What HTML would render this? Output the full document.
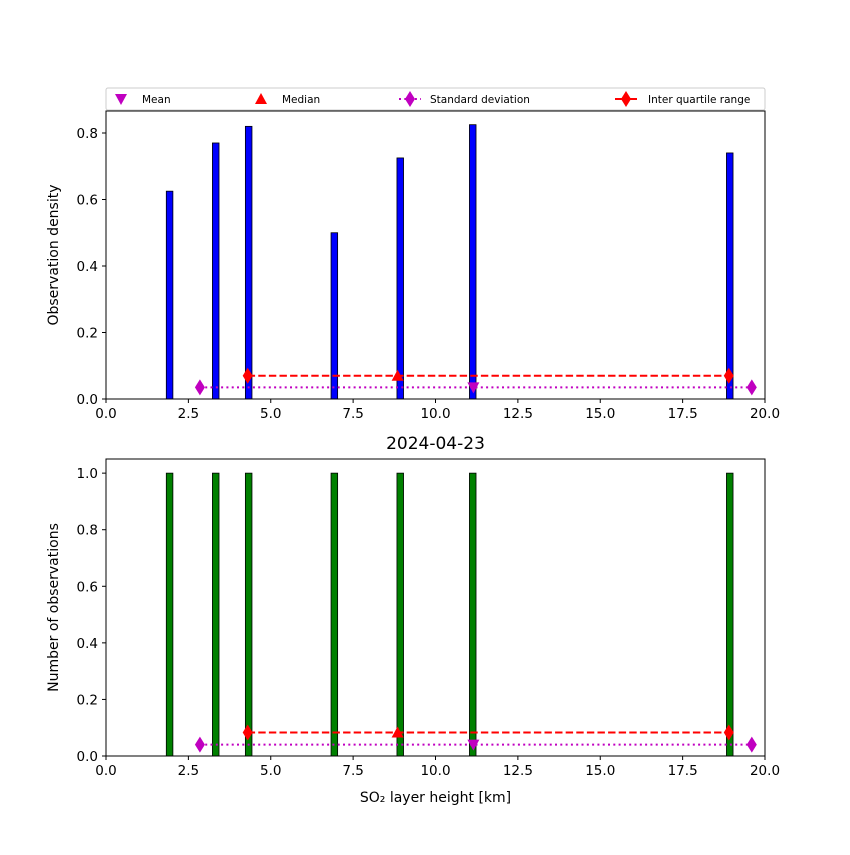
<!DOCTYPE html>
<html><head><meta charset="utf-8"><style>
body{margin:0;background:#fff;}
svg{font-family:"DejaVu Sans","Liberation Sans",sans-serif;}
</style></head><body>
<svg id="c" width="850" height="850" xmlns="http://www.w3.org/2000/svg"></svg>
<script>
const binStarts=[1.83,3.23,4.23,6.83,8.83,11.03,18.83];
const binWidth=0.2;
const densityVals=[0.625,0.77,0.82,0.5,0.725,0.825,0.74];
const countVals=[1,1,1,1,1,1,1];
const xTicks=[0,2.5,5,7.5,10,12.5,15,17.5,20];
const topYTicks=[0,0.2,0.4,0.6,0.8];
const botYTicks=[0,0.2,0.4,0.6,0.8,1.0];
const meanVal=11.15, medianVal=8.85, stdRange=[2.85,19.6], iqrRange=[4.3,18.9];
const topStatY=[0.035,0.07], botStatY=[0.04,0.083];

const svg=document.getElementById('c');const NS='http://www.w3.org/2000/svg';
function el(t,a,p){const e=document.createElementNS(NS,t);for(const k in a)e.setAttribute(k,a[k]);(p||svg).appendChild(e);return e;}
const X0=106,X1=765;const xs=v=>X0+(v/20)*(X1-X0);
function marker(type,x,y,color,g){
 let pts;
 if(type==='down')pts=`${x-6},${y-5} ${x+6},${y-5} ${x},${y+6}`;
 else if(type==='up')pts=`${x-6},${y+5} ${x+6},${y+5} ${x},${y-6}`;
 else pts=`${x},${y-8} ${x+5},${y} ${x},${y+8} ${x-5},${y}`;
 const m=el('polygon',{points:pts,fill:color},g);
 return m;
}
function panel(name,top,bottom,ymax,yTicks,vals,color,statY,ylabel,xlabel){
 const g=el('g',{});
 
 
 const ys=v=>bottom-(v/ymax)*(bottom-top);
 vals.forEach((v,i)=>{
  const r=el('rect',{x:xs(binStarts[i]),y:ys(v),width:xs(binStarts[i]+binWidth)-xs(binStarts[i]),height:ys(0)-ys(v),fill:color,stroke:'#000','stroke-width':0.8},g);
  
  
 });
 const s=el('line',{x1:xs(stdRange[0]),x2:xs(stdRange[1]),y1:ys(statY[0]),y2:ys(statY[0]),stroke:'#c000c0','stroke-width':2,'stroke-dasharray':'2,3.3'},g);
 
 
 marker('d',xs(stdRange[0]),ys(statY[0]),'#c000c0',g);marker('d',xs(stdRange[1]),ys(statY[0]),'#c000c0',g);
 const q=el('line',{x1:xs(iqrRange[0]),x2:xs(iqrRange[1]),y1:ys(statY[1]),y2:ys(statY[1]),stroke:'#ff0000','stroke-width':2,'stroke-dasharray':'7.4,3.2'},g);
 
 
 marker('d',xs(iqrRange[0]),ys(statY[1]),'#ff0000',g);marker('d',xs(iqrRange[1]),ys(statY[1]),'#ff0000',g);
 const mm=marker('down',xs(meanVal),ys(statY[0]),'#c000c0',g);
 
 
 const md=marker('up',xs(medianVal),ys(statY[1]),'#ff0000',g);
 
 
 el('rect',{x:X0,y:top,width:X1-X0,height:bottom-top,fill:'none',stroke:'#000','stroke-width':1},g);
 xTicks.forEach(t=>{
  el('line',{x1:xs(t),x2:xs(t),y1:bottom,y2:bottom+4,stroke:'#000'},g);
  const tx=el('text',{x:xs(t),y:bottom+19,'text-anchor':'middle','font-size':13.5},g);tx.textContent=t.toFixed(1);
  
  
 });
 yTicks.forEach(t=>{
  el('line',{x1:X0-4,x2:X0,y1:ys(t),y2:ys(t),stroke:'#000'},g);
  const tx=el('text',{x:X0-8,y:ys(t)+5,'text-anchor':'end','font-size':13.5},g);tx.textContent=t.toFixed(1);
  
  
 });
 const yl=el('text',{x:58,y:(top+bottom)/2,'text-anchor':'middle','font-size':14,transform:`rotate(-90 58 ${(top+bottom)/2})`},g);yl.textContent=ylabel;
 
 
 if(xlabel){const xl=el('text',{x:(X0+X1)/2,y:bottom+46,'text-anchor':'middle','font-size':14},g);xl.textContent=xlabel;
 
 }
}
panel('top',111,399,0.8*288/266,topYTicks,densityVals,'#0000ff',topStatY,'Observation density',null);
panel('bottom',459,756,1.05,botYTicks,countVals,'#008000',botStatY,'Number of observations','SO₂ layer height [km]');
const title=el('text',{x:(X0+X1)/2,y:449,'text-anchor':'middle','font-size':17});title.textContent='2024-04-23';


// legend
const lg=el('g',{});


el('rect',{x:106,y:88,width:659,height:22,fill:'#fff',stroke:'#ccc',rx:2},lg);
const ly=99;
marker('down',121,ly,'#c000c0',lg);
el('line',{x1:399,x2:421,y1:ly,y2:ly,stroke:'#c000c0','stroke-width':2,'stroke-dasharray':'2,3.3'},lg);
marker('up',261,ly,'#ff0000',lg);
marker('d',410,ly,'#c000c0',lg);
el('line',{x1:615,x2:637,y1:ly,y2:ly,stroke:'#ff0000','stroke-width':2},lg);
marker('d',626,ly,'#ff0000',lg);
[['Mean',142],['Median',282],['Standard deviation',430],['Inter quartile range',648]].forEach(([t,x])=>{
 const tx=el('text',{x:x,y:ly+4,'font-size':10.5},lg);tx.textContent=t;
 
 
});
</script>
</body></html>
